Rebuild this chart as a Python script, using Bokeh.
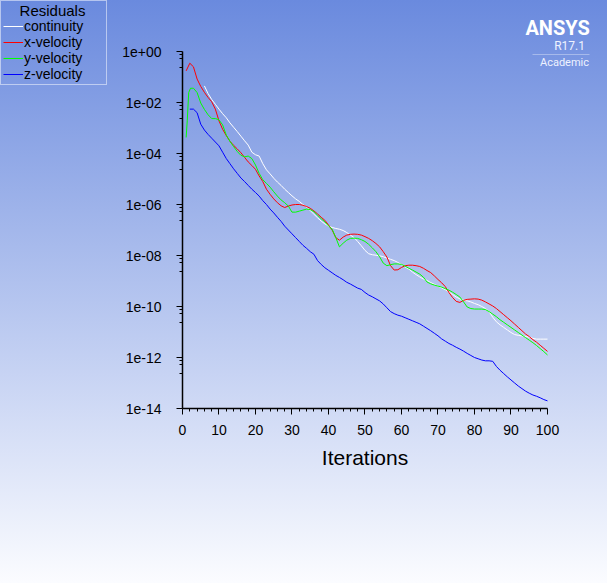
from bokeh.plotting import figure
from bokeh.models import (Range1d, FixedTicker, CustomJSTickFormatter, Legend, LegendItem,
                          Label, BoxAnnotation, GlobalInlineStyleSheet)
from bokeh.embed import file_html
from bokeh.resources import INLINE

# ---- data (log10 of residual) ----
cont_it = [6, 7, 8, 9, 10, 11, 12, 13, 14, 15, 16, 17, 18, 19, 20, 21, 22, 23, 24, 25, 26, 27, 28, 29, 30,
           31, 32, 33, 34, 35, 36, 37, 38, 39, 40, 41, 42, 43, 44, 45, 46, 47, 48, 49, 50, 51, 52, 53, 54, 55,
           56, 57, 58, 59, 60, 61, 62, 63, 64, 65, 66, 67, 68, 69, 70, 71, 72, 73, 74, 75, 76, 77, 78, 79, 80,
           81, 82, 83, 84, 85, 86, 87, 88, 89, 90, 91, 92, 93, 94, 95, 96, 97, 98, 99, 100]
cont_log = [-1.35, -1.65, -1.88, -2.07, -2.26, -2.44, -2.6, -2.8, -2.97, -3.14, -3.32, -3.5, -3.67, -3.95, -4.05,
            -4.1, -4.4, -4.64, -4.8, -4.97, -5.12, -5.25, -5.4, -5.53, -5.66, -5.78, -5.88, -6.0, -6.1, -6.24,
            -6.38, -6.52, -6.65, -6.76, -6.84, -6.9, -6.94, -6.97, -7.02, -7.1, -7.2, -7.3, -7.45, -7.62, -7.8,
            -7.93, -7.97, -7.99, -8.01, -8.05, -8.1, -8.15, -8.2, -8.27, -8.36, -8.45, -8.53, -8.65, -8.75, -8.84,
            -8.92, -8.98, -9.06, -9.13, -9.2, -9.27, -9.34, -9.43, -9.53, -9.63, -9.7, -9.75, -9.78, -9.82, -9.88,
            -9.93, -10.0, -10.08, -10.2, -10.42, -10.6, -10.72, -10.82, -10.92, -11.02, -11.1, -11.13, -11.15,
            -11.18, -11.2, -11.25, -11.28, -11.28, -11.28, -11.28]

xvel_it = list(range(1, 101))
xvel_log = [-0.76, -0.46, -0.6, -1.08, -1.37, -1.6, -1.8, -1.97, -2.26, -2.72, -3.05, -3.3, -3.52, -3.68, -3.82,
            -3.97, -4.15, -4.33, -4.47, -4.62, -4.88, -5.1, -5.4, -5.6, -5.78, -5.93, -6.05, -6.12, -6.06, -6.02,
            -6.0, -6.0, -6.03, -6.08, -6.15, -6.25, -6.37, -6.5, -6.62, -6.8, -7.0, -7.3, -7.4, -7.28, -7.2,
            -7.17, -7.16, -7.17, -7.2, -7.26, -7.33, -7.42, -7.53, -7.66, -7.85, -8.06, -8.4, -8.57, -8.56, -8.47,
            -8.4, -8.38, -8.38, -8.4, -8.43, -8.5, -8.59, -8.67, -8.8, -8.94, -9.07, -9.22, -9.45, -9.65, -9.8,
            -9.84, -9.76, -9.72, -9.71, -9.7, -9.71, -9.75, -9.82, -9.9, -9.98, -10.08, -10.2, -10.32, -10.44,
            -10.56, -10.69, -10.82, -10.95, -11.08, -11.18, -11.3, -11.4, -11.52, -11.64, -11.76]

yvel_it = [1, 1.3, 1.7, 2.2, 3] + list(range(4, 101))
yvel_log = [-3.37, -2.72, -1.61, -1.44, -1.44, -1.61, -2.02, -2.27, -2.48, -2.63, -2.63, -2.68, -2.88, -3.28,
            -3.52, -3.73, -3.92, -4.07, -4.13, -4.1, -4.2, -4.45, -4.78, -5.03, -5.17, -5.32, -5.5, -5.67, -5.82,
            -5.93, -6.06, -6.3, -6.3, -6.26, -6.22, -6.18, -6.2, -6.28, -6.42, -6.56, -6.68, -6.84, -6.97, -7.3,
            -7.66, -7.52, -7.4, -7.33, -7.32, -7.33, -7.38, -7.45, -7.56, -7.7, -7.85, -8.05, -8.3, -8.4, -8.36,
            -8.33, -8.33, -8.35, -8.42, -8.5, -8.57, -8.65, -8.73, -8.85, -9.04, -9.11, -9.16, -9.2, -9.24, -9.3,
            -9.36, -9.44, -9.53, -9.63, -9.82, -10.02, -10.08, -10.1, -10.1, -10.1, -10.12, -10.2, -10.3, -10.4,
            -10.52, -10.62, -10.72, -10.82, -10.92, -11.02, -11.12, -11.22, -11.32, -11.42, -11.53, -11.65,
            -11.77, -11.9]

zvel_it = list(range(2, 101))
zvel_log = [-2.26, -2.26, -2.4, -2.85, -3.08, -3.25, -3.4, -3.55, -3.7, -3.95, -4.2, -4.4, -4.6, -4.78, -4.96,
            -5.1, -5.25, -5.4, -5.53, -5.67, -5.85, -6.0, -6.18, -6.33, -6.5, -6.66, -6.85, -7.0, -7.15, -7.3,
            -7.45, -7.6, -7.72, -7.85, -7.95, -8.2, -8.35, -8.48, -8.58, -8.68, -8.78, -8.86, -8.95, -9.05,
            -9.12, -9.2, -9.28, -9.33, -9.45, -9.55, -9.62, -9.7, -9.78, -9.9, -10.05, -10.2, -10.28, -10.34,
            -10.38, -10.44, -10.5, -10.56, -10.62, -10.68, -10.77, -10.86, -10.95, -11.05, -11.15, -11.27,
            -11.36, -11.45, -11.52, -11.6, -11.67, -11.75, -11.84, -11.92, -12.0, -12.05, -12.1, -12.13, -12.13,
            -12.15, -12.35, -12.5, -12.63, -12.76, -12.88, -13.0, -13.12, -13.22, -13.32, -13.4, -13.47, -13.52,
            -13.58, -13.65, -13.7]

series_names = ["continuity", "x-velocity", "y-velocity", "z-velocity"]
series_colors = ["#ffffff", "#ff0000", "#00ff00", "#0000ff"]
legend_title = "Residuals"
x_ticks = [0, 10, 20, 30, 40, 50, 60, 70, 80, 90, 100]
y_tick_exps = [0, -2, -4, -6, -8, -10, -12, -14]

FONT = "Liberation Sans"

# The frame covers the whole canvas (so legend and logo texts are not clipped);
# the axes are pinned at x=0 and y=1e-14 and bounded to the data extent.
p = figure(width=599, height=575, output_backend="svg", toolbar_location=None,
           y_axis_type="log",
           x_range=Range1d(-49.863, 114.247), y_range=Range1d(10 ** -20.549, 1e2),
           min_border_left=0, min_border_right=0, min_border_top=0, min_border_bottom=0)
p.background_fill_color = None
p.border_fill_color = None
p.outline_line_color = None
p.grid.visible = False

p.stylesheets = [GlobalInlineStyleSheet(css=(
    "html { min-height: 100%; background: linear-gradient(to bottom, #6a8ade 0%, #fbfcff 100%) fixed; }"
    "body { background: transparent; }"))]

data = [(cont_it, cont_log), (xvel_it, xvel_log), (yvel_it, yvel_log), (zvel_it, zvel_log)]
renderers = []
for (it, lg), name, col in zip(data, series_names, series_colors):
    r = p.line(it, [10 ** v for v in lg], line_color=col, line_width=1)
    renderers.append(r)

# x axis
xa = p.xaxis[0]
xa.bounds = (0, 100)
xa.fixed_location = 1e-14
xa.ticker = FixedTicker(ticks=x_ticks,
                        minor_ticks=[v for v in range(0, 101, 2) if v % 10 != 0])
xa.axis_label = "Iterations"
xa.axis_label_text_font = FONT
xa.axis_label_text_font_size = "21px"
xa.axis_label_text_font_style = "normal"
xa.axis_label_text_color = "black"
xa.axis_label_standoff = 8
xa.major_label_text_font = FONT
xa.major_label_text_font_size = "14px"
xa.major_label_text_color = "black"
xa.major_label_standoff = 10
xa.major_tick_out = 6
xa.major_tick_in = 0
xa.minor_tick_out = 3
xa.minor_tick_in = 0
xa.axis_line_color = "black"
xa.axis_line_width = 1.5
xa.major_tick_line_color = "black"
xa.minor_tick_line_color = "black"

# y axis
ya = p.yaxis[0]
ya.bounds = (1e-14, 1.0)
ya.fixed_location = 0
major_y = [10.0 ** e for e in y_tick_exps]
minor_y = []
for e in y_tick_exps[:-1]:
    for d in (0.13, 0.26, 0.63):
        minor_y.append(10.0 ** (e - d))
ya.ticker = FixedTicker(ticks=major_y, minor_ticks=minor_y)
ya.formatter = CustomJSTickFormatter(code="""
    const e = Math.round(Math.log10(tick));
    const s = e < 0 ? "-" : "+";
    const a = Math.abs(e);
    return "1e" + s + (a < 10 ? "0" + a : "" + a);
""")
ya.major_label_text_font = FONT
ya.major_label_text_font_size = "14px"
ya.major_label_text_color = "black"
ya.major_label_standoff = 15
ya.major_tick_out = 6
ya.major_tick_in = 0
ya.minor_tick_out = 3
ya.minor_tick_in = 0
ya.axis_line_color = "black"
ya.axis_line_width = 1.5
ya.major_tick_line_color = "black"
ya.minor_tick_line_color = "black"

# legend: the title row is reserved with a blank and the centred title is a label
legend = Legend(items=[LegendItem(label=n, renderers=[r]) for n, r in zip(series_names, renderers)],
                location="top_left", title=" ",
                title_text_font=FONT, title_text_font_size="13px", title_text_font_style="normal",
                title_text_color="black", title_standoff=0, title_text_line_height=0.8,
                label_text_font=FONT, label_text_font_size="14px", label_text_color="black",
                label_text_line_height=0.8,
                glyph_width=20, glyph_height=10, label_height=10, label_width=80, label_standoff=1,
                padding=2, spacing=0, margin=0,
                border_line_color="white", border_line_width=1,
                background_fill_alpha=0.0)
p.add_layout(legend)
p.add_layout(Label(x=52, y=565, x_units="screen", y_units="screen", text=legend_title,
                   text_font=FONT, text_font_size="15px", text_color="black",
                   text_align="center", text_baseline="middle"))

# ANSYS logo text (screen units, the frame is the whole canvas)
p.add_layout(Label(x=589.3, y=547.5, x_units="screen", y_units="screen", text="ANSYS",
                   text_font="Roboto", text_font_size="20px", text_font_style="bold",
                   text_color="white", text_align="right", text_baseline="alphabetic"))
p.add_layout(Label(x=584.5, y=529.5, x_units="screen", y_units="screen", text="R17.1",
                   text_font="Roboto", text_font_size="12px",
                   text_color="#eef2ff", text_align="right", text_baseline="alphabetic"))
p.add_layout(BoxAnnotation(left=532, right=589, bottom=520.5, top=521.5,
                           left_units="screen", right_units="screen",
                           top_units="screen", bottom_units="screen",
                           fill_color="white", fill_alpha=0.35, line_alpha=0))
p.add_layout(Label(x=588.5, y=513.5, x_units="screen", y_units="screen", text="Academic",
                   text_font="Roboto", text_font_size="11px",
                   text_color="#eef2ff", text_align="right", text_baseline="alphabetic"))

open("out.html", "w").write(file_html(p, INLINE))
